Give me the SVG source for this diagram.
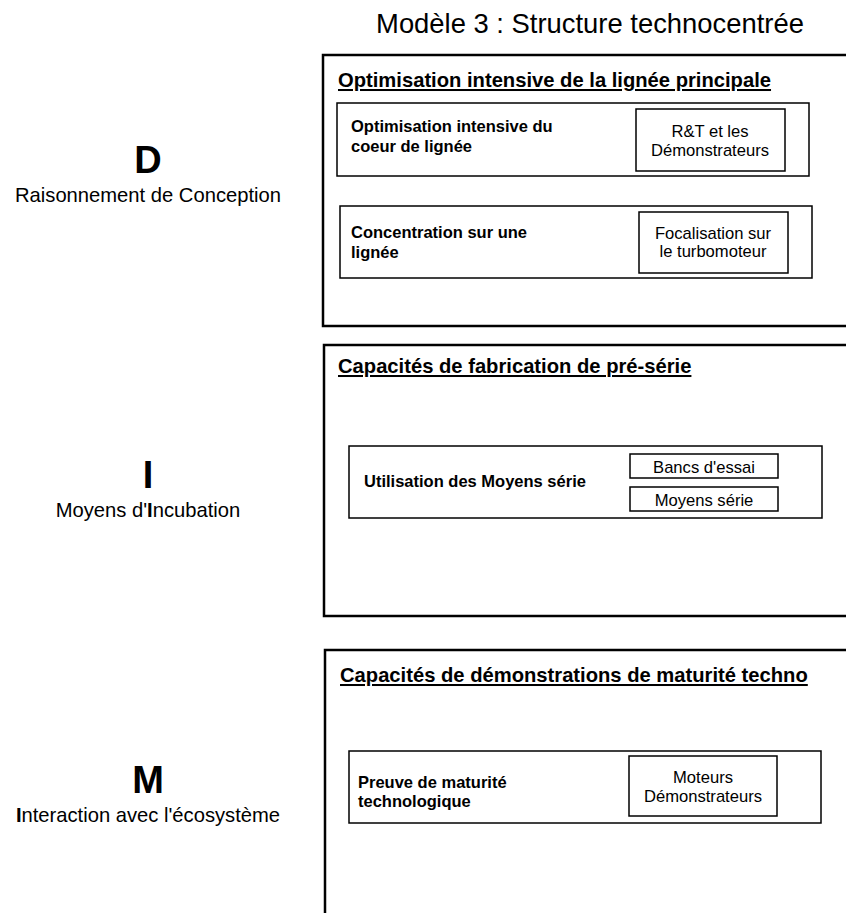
<svg xmlns="http://www.w3.org/2000/svg" width="846" height="913" viewBox="0 0 846 913">
<style>
text{font-family:"Liberation Sans",Arial,sans-serif;fill:#000}
.big{fill:none;stroke:#000;stroke-width:2.5}
.in{fill:#fff;stroke:#000;stroke-width:1.5}
.h{font-weight:bold;font-size:20.2px;text-decoration:underline}
.b{font-weight:bold;font-size:16.5px}
.r{font-size:16.6px;text-anchor:middle}
.L{font-weight:bold;font-size:38px;text-anchor:middle}
.l{font-size:20.2px;text-anchor:middle}
</style>
<rect width="846" height="913" fill="#fff"/>
<text x="590" y="33" style="font-size:27.4px;text-anchor:middle">Modèle 3 : Structure technocentrée</text>
<g id="left-D"><text class="L" x="148" y="173">D</text><text class="l" x="148" y="202">Raisonnement de Conception</text></g>
<g id="left-I"><text class="L" x="148" y="488">I</text><text class="l" x="148" y="517">Moyens d'<tspan font-weight="bold">I</tspan>ncubation</text></g>
<g id="left-M"><text class="L" x="148" y="793">M</text><text class="l" x="148" y="822"><tspan font-weight="bold">I</tspan>nteraction avec l'écosystème</text></g>
<g id="box1">
<rect class="big" x="323" y="55" width="600" height="271"/>
<text class="h" x="338" y="87">Optimisation intensive de la lignée principale</text>
<g id="box1a"><rect class="in" x="337" y="103" width="472" height="73"/>
<text class="b" x="351" y="132">Optimisation intensive du</text><text class="b" x="351" y="152">coeur de lignée</text>
<rect class="in" x="636" y="109" width="149" height="62"/>
<text class="r" x="710" y="137">R&amp;T et les</text><text class="r" x="710" y="156">Démonstrateurs</text></g>
<g id="box1b"><rect class="in" x="340" y="206" width="472" height="72"/>
<text class="b" x="351" y="238">Concentration sur une</text><text class="b" x="351" y="258">lignée</text>
<rect class="in" x="639" y="212" width="149" height="61"/>
<text class="r" x="713" y="239">Focalisation sur</text><text class="r" x="713" y="257">le turbomoteur</text></g>
</g>
<g id="box2">
<rect class="big" x="324" y="345" width="600" height="271"/>
<text class="h" x="338" y="373">Capacités de fabrication de pré-série</text>
<g id="box2a"><rect class="in" x="349" y="446" width="473" height="72"/>
<text class="b" x="364" y="487">Utilisation des Moyens série</text>
<rect class="in" x="630" y="454" width="148" height="24"/><text class="r" x="704" y="473">Bancs d'essai</text>
<rect class="in" x="630" y="487" width="148" height="24"/><text class="r" x="704" y="506">Moyens série</text></g>
</g>
<g id="box3">
<rect class="big" x="325" y="650" width="600" height="300"/>
<text class="h" x="340" y="682">Capacités de démonstrations de maturité techno</text>
<g id="box3a"><rect class="in" x="349" y="751" width="472" height="72"/>
<text class="b" x="358" y="788">Preuve de maturité</text><text class="b" x="358" y="807">technologique</text>
<rect class="in" x="629" y="756" width="148" height="60"/>
<text class="r" x="703" y="783">Moteurs</text><text class="r" x="703" y="802">Démonstrateurs</text></g>
</g>
<g id="connectors"/>
</svg>
